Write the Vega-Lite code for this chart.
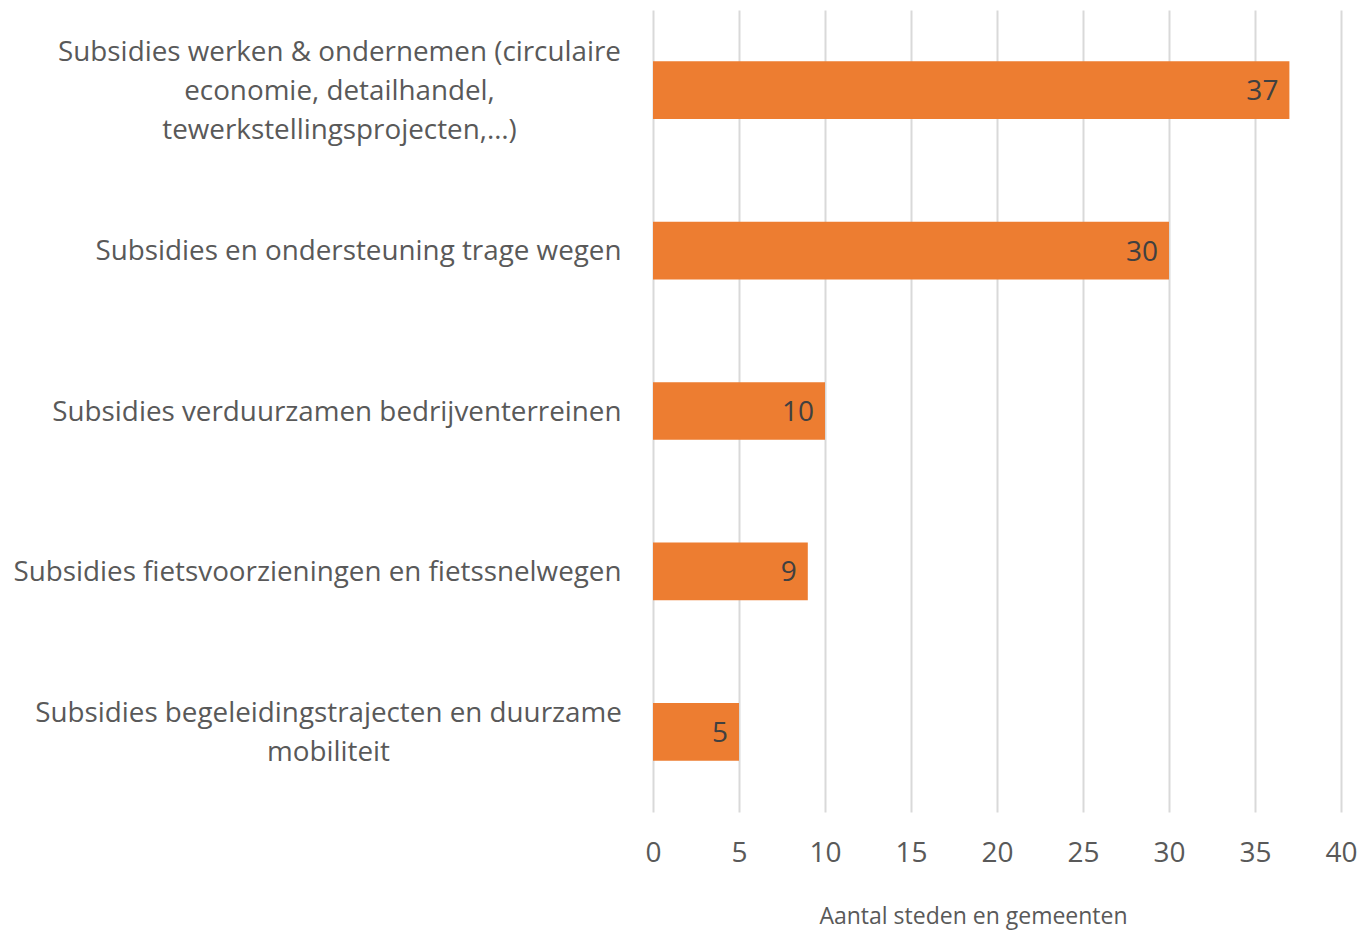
{
  "$schema": "https://vega.github.io/schema/vega-lite/v6.json",
  "autosize": "none",
  "width": 688,
  "height": 802,
  "padding": {"left": 653, "top": 10, "right": 21, "bottom": 118},
  "background": "white",
  "config": {"view": {"stroke": null}, "font": "Open Sans"},
  "data": {"values": [
    {"categorie": "Subsidies werken & ondernemen (circulaire\neconomie, detailhandel,\ntewerkstellingsprojecten,…)", "aantal": 37},
    {"categorie": "Subsidies en ondersteuning trage wegen", "aantal": 30},
    {"categorie": "Subsidies verduurzamen bedrijventerreinen", "aantal": 10},
    {"categorie": "Subsidies fietsvoorzieningen en fietssnelwegen", "aantal": 9},
    {"categorie": "Subsidies begeleidingstrajecten en duurzame\nmobiliteit", "aantal": 5}
  ]},
  "encoding": {
    "y": {"field": "categorie", "type": "nominal", "sort": null,
      "scale": {"paddingInner": 0.64, "paddingOuter": 0.32},
      "axis": {"title": null, "ticks": false, "domain": false, "grid": false,
        "labelExpr": "split(datum.value, '\\n')",
        "labelFont": "Open Sans", "labelFontSize": 27.8, "labelColor": "#595959",
        "labelLimit": 0, "labelLineHeight": 39, "labelBaseline": "middle",
        "labelAlign": {"condition": {"test": "indexof(datum.value, '\\n') >= 0", "value": "center"}, "value": "right"},
        "labelPadding": {"condition": [
          {"test": "indexof(datum.value, 'circulaire') >= 0", "value": 314},
          {"test": "indexof(datum.value, 'mobiliteit') >= 0", "value": 325}
        ], "value": 32},
        "labelOffset": {"condition": [
          {"test": "indexof(datum.value, 'circulaire') >= 0", "value": -37.5},
          {"test": "indexof(datum.value, 'mobiliteit') >= 0", "value": -18}
        ], "value": 1.5}}},
    "x": {"field": "aantal", "type": "quantitative",
      "scale": {"domain": [0, 40], "nice": false},
      "axis": {"title": "Aantal steden en gemeenten", "values": [0,5,10,15,20,25,30,35,40],
        "ticks": false, "domain": false, "grid": true, "gridColor": "#D9D9D9", "gridWidth": 2,
        "labelFlush": false,
        "labelFont": "Open Sans", "labelFontSize": 28, "labelColor": "#595959", "labelPadding": 27,
        "titleFont": "Open Sans", "titleFontSize": 23, "titleFontWeight": "normal", "titleColor": "#595959",
        "titlePadding": 38, "titleX": 320}}
  },
  "layer": [
    {"mark": {"type": "bar", "color": "#ED7D31"}},
    {"mark": {"type": "text", "align": "right", "baseline": "middle", "dx": -11, "dy": 2, "font": "Open Sans", "fontSize": 28, "color": "#404040"},
      "encoding": {"text": {"field": "aantal", "type": "quantitative"}}}
  ]
}
